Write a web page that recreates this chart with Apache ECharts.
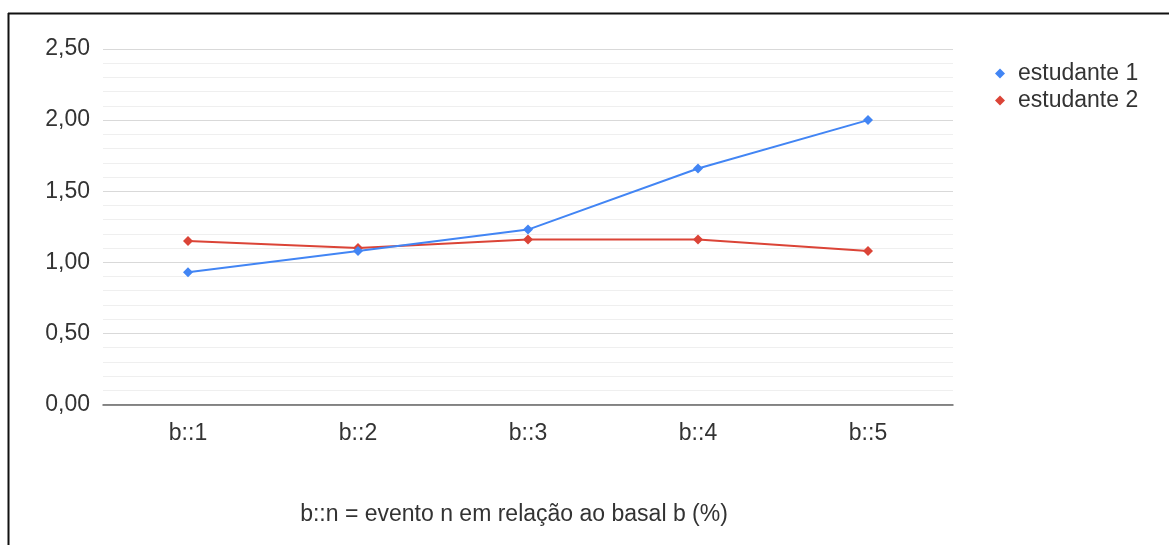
<!DOCTYPE html>
<html>
<head>
<meta charset="utf-8">
<script src="https://cdn.jsdelivr.net/npm/echarts@6/dist/echarts.min.js"></script>
<style>html,body{margin:0;padding:0;background:#fff}#c{width:1169px;height:545px}</style>
</head>
<body>
<div id="c"></div>
<script>
const categories = ['b::1', 'b::2', 'b::3', 'b::4', 'b::5'];
const estudante1 = [0.93, 1.08, 1.23, 1.66, 2.00];
const estudante2 = [1.15, 1.10, 1.16, 1.16, 1.08];
const seriesNames = ['estudante 1', 'estudante 2'];
const xAxisTitle = 'b::n = evento n em relação ao basal b (%)';

const chart = echarts.init(document.getElementById('c'), null, {renderer: 'canvas'});
const font = '"Liberation Sans", Arial, sans-serif';
const fs = 23;
chart.setOption({
  animation: false,
  backgroundColor: '#fff',
  textStyle: {fontFamily: font},
  grid: {left: 103, right: 216, top: 49, bottom: 140.5, containLabel: false},
  legend: {
    orient: 'vertical', left: 990, top: 57, itemGap: 4,
    icon: 'diamond', itemWidth: 10, itemHeight: 10,
    textStyle: {fontSize: fs, lineHeight: 23, color: '#333', fontFamily: font, padding: [0, 0, 0, 8]},
    data: seriesNames
  },
  xAxis: {
    type: 'category', data: categories, boundaryGap: true,
    axisLine: {lineStyle: {color: '#666', width: 1.5}},
    axisTick: {show: false},
    axisLabel: {fontSize: fs, color: '#333', margin: 18, fontFamily: font},
    name: xAxisTitle, nameLocation: 'middle', nameGap: 99,
    nameTextStyle: {fontSize: fs, color: '#333', fontFamily: font, padding: [0, 28, 0, 0]}
  },
  yAxis: {
    type: 'value', min: 0, max: 2.5, interval: 0.5,
    axisLine: {show: false}, axisTick: {show: false},
    axisLabel: {fontSize: fs, color: '#333', margin: 13, fontFamily: font,
      formatter: v => v.toFixed(2).replace('.', ',')},
    splitLine: {lineStyle: {color: '#d9d9d9', width: 1}},
    minorTick: {show: false, splitNumber: 5},
    minorSplitLine: {show: true, lineStyle: {color: '#efefef', width: 1}}
  },
  series: [
    {name: seriesNames[0], type: 'line', data: estudante1, symbol: 'diamond', symbolSize: 10,
     color: '#4285F4', lineStyle: {width: 2, color: '#4285F4'}, itemStyle: {color: '#4285F4'}, z: 3},
    {name: seriesNames[1], type: 'line', data: estudante2, symbol: 'diamond', symbolSize: 10,
     color: '#DB4437', lineStyle: {width: 2, color: '#DB4437'}, itemStyle: {color: '#DB4437'}, z: 2}
  ],
  graphic: [
    {type: 'line', shape: {x1: 8, y1: 13.5, x2: 1169, y2: 13.5}, style: {stroke: '#111', lineWidth: 2}, silent: true},
    {type: 'line', shape: {x1: 8.5, y1: 13, x2: 8.5, y2: 545}, style: {stroke: '#111', lineWidth: 2}, silent: true}
  ]
});
</script>
</body>
</html>
